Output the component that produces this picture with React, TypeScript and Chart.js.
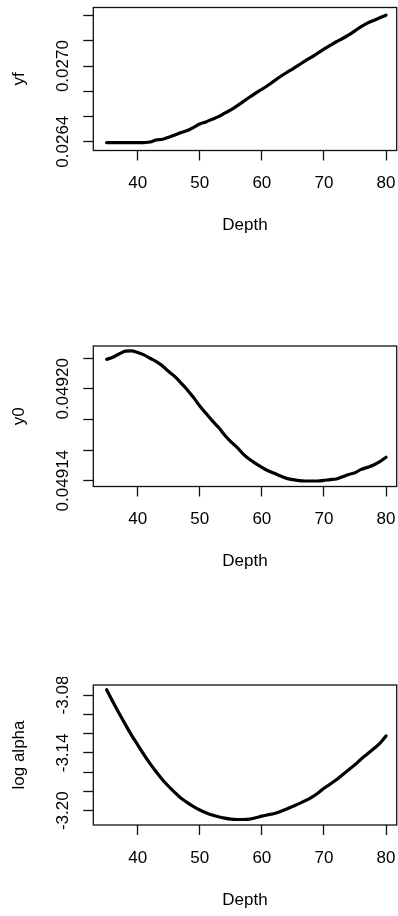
import React, { useEffect, useRef } from 'react';
import { Chart, registerables } from 'chart.js';

Chart.register(...registerables);

// ---------- data ----------
const depth = [
  35, 36, 37, 38, 39, 40, 41, 42, 43, 44, 45, 46, 47, 48, 49, 50,
  51, 52, 53, 54, 55, 56, 57, 58, 59, 60, 61, 62, 63, 64, 65,
  66, 67, 68, 69, 70, 71, 72, 73, 74, 75, 76, 77, 78, 79, 80,
];

const yfValues = [
  0.026392, 0.026392, 0.026392, 0.026392, 0.026392, 0.026392, 0.026393, 0.026397,
  0.026414, 0.026419, 0.026435, 0.026453, 0.026472, 0.026488, 0.026514, 0.026541,
  0.026557, 0.026578, 0.026599, 0.026626, 0.026652, 0.026684, 0.026718, 0.026753,
  0.026785, 0.026816, 0.026848, 0.026883, 0.026917, 0.026949, 0.026978,
  0.02701, 0.027042, 0.027071, 0.027103, 0.027134, 0.027164, 0.027193, 0.027219,
  0.027248, 0.02728, 0.027314, 0.027341, 0.027362, 0.027383, 0.027404,
];

const y0Values = [
  0.0492193, 0.0492207, 0.0492228, 0.0492246, 0.0492248, 0.0492237, 0.0492222, 0.04922,
  0.0492178, 0.049215, 0.0492113, 0.049208, 0.0492037, 0.0491993, 0.0491943, 0.0491888,
  0.049184, 0.0491792, 0.0491749, 0.0491699, 0.0491655, 0.0491618, 0.0491574, 0.049154,
  0.0491513, 0.0491487, 0.0491465, 0.0491448, 0.0491431, 0.0491415, 0.0491407,
  0.04914, 0.0491398, 0.0491398, 0.0491398, 0.0491402, 0.0491407, 0.0491411, 0.0491426,
  0.0491441, 0.0491452, 0.0491474, 0.0491487, 0.0491502, 0.0491524, 0.0491553,
];

const logAlphaValues = [
  -3.07442, -3.08698, -3.09884, -3.11035, -3.12151, -3.13163, -3.14174, -3.15116,
  -3.15988, -3.16791, -3.17488, -3.18116, -3.18709, -3.19163, -3.19581, -3.1993,
  -3.20209, -3.20453, -3.20628, -3.20767, -3.20872, -3.20907, -3.20907, -3.20872,
  -3.20733, -3.20558, -3.20419, -3.20279, -3.2007, -3.19826, -3.19547,
  -3.19267, -3.18953, -3.18605, -3.18186, -3.17663, -3.17244, -3.16791, -3.16267,
  -3.15744, -3.15221, -3.14628, -3.14105, -3.13581, -3.13023, -3.12256,
];

const xTicks = [40, 50, 60, 70, 80];

const yfTicks = [0.0264, 0.0266, 0.0268, 0.027, 0.0272, 0.0274];
const yfTickLabels = ['0.0264', '0.0270'];

const y0Ticks = [0.04914, 0.04916, 0.04918, 0.0492, 0.04922];
const y0TickLabels = ['0.04914', '0.04920'];

const logAlphaTicks = [-3.2, -3.18, -3.16, -3.14, -3.12, -3.1, -3.08];
const logAlphaTickLabels = ['-3.08', '-3.14', '-3.20'];

const xTitle = 'Depth';

// ---------- layout / style ----------
const FONT_FAMILY = '"Liberation Sans", Arial, Helvetica, sans-serif';
const FONT_SIZE = 17;
const W = 398;

const panels = [
  { title: 'yf', values: yfValues, ticks: yfTicks, labels: yfTickLabels,
    yMin: 0.02633, yMax: 0.027465, top: 0, height: 338, areaTop: 7.5, areaBottom: 150.5 },
  { title: 'y0', values: y0Values, ticks: y0Ticks, labels: y0TickLabels,
    yMin: 0.0491362, yMax: 0.049228, top: 338, height: 339, areaTop: 8, areaBottom: 148.5 },
  { title: 'log alpha', values: logAlphaValues, ticks: logAlphaTicks, labels: logAlphaTickLabels,
    yMin: -3.2148, yMax: -3.0696, top: 677, height: 239, areaTop: 8, areaBottom: 148 },
];

const AREA_LEFT = 93.3;
const AREA_RIGHT = 396.7;
const X_AXIS_H = 88;
const Y_LABEL_X = 63.3;

const rBoxPlugin = {
  id: 'rbox',
  afterDraw(chart: any, _args: any, opts: any) {
    const { ctx, chartArea: a } = chart;
    ctx.save();
    ctx.strokeStyle = '#111';
    ctx.lineWidth = 1.3;
    ctx.strokeRect(a.left, a.top, a.right - a.left, a.bottom - a.top);
    const ys = chart.scales.y;
    ctx.fillStyle = '#000';
    ctx.font = `${FONT_SIZE}px ${FONT_FAMILY}`;
    ctx.textAlign = 'center';
    ctx.textBaseline = 'middle';
    for (const lab of opts.labels as string[]) {
      const py = ys.getPixelForValue(parseFloat(lab));
      ctx.save();
      ctx.translate(opts.x, py);
      ctx.rotate(-Math.PI / 2);
      ctx.fillText(lab, 0, 0);
      ctx.restore();
    }
    ctx.restore();
  },
};

function Panel({ p }: { p: (typeof panels)[number] }) {
  const ref = useRef<HTMLCanvasElement>(null);
  useEffect(() => {
    const font = { family: FONT_FAMILY, size: FONT_SIZE };
    const chart = new Chart(ref.current as HTMLCanvasElement, {
      type: 'line',
      data: {
        datasets: [
          {
            data: depth.map((d, i) => ({ x: d, y: p.values[i] })),
            borderColor: '#000',
            borderWidth: 3.2,
            pointRadius: 0,
            fill: false,
            cubicInterpolationMode: 'monotone',
            borderCapStyle: 'round',
            borderJoinStyle: 'round',
          },
        ],
      },
      plugins: [rBoxPlugin],
      options: {
        animation: false,
        responsive: false,
        devicePixelRatio: 1,
        events: [],
        layout: {
          padding: {
            left: 0,
            right: W - AREA_RIGHT,
            top: p.areaTop,
            bottom: p.height - p.areaBottom - X_AXIS_H,
          },
        },
        plugins: {
          legend: { display: false },
          tooltip: { enabled: false },
          rbox: { labels: p.labels, x: Y_LABEL_X },
        } as any,
        scales: {
          x: {
            type: 'linear',
            min: 32.85,
            max: 81.72,
            afterBuildTicks: (s: any) => {
              s.ticks = xTicks.map((v) => ({ value: v }));
            },
            afterFit: (s: any) => {
              s.height = X_AXIS_H;
              s.paddingLeft = 0;
              s.paddingRight = 0;
            },
            grid: {
              display: true,
              drawOnChartArea: false,
              drawTicks: true,
              tickLength: 10,
              tickColor: '#111',
              tickWidth: 1.3,
            },
            border: { display: false },
            ticks: {
              font,
              color: '#000',
              padding: 12.8,
              autoSkip: false,
              maxRotation: 0,
              minRotation: 0,
              callback: (v: any) => String(v),
            },
            title: {
              display: true,
              text: xTitle,
              font,
              color: '#000',
              padding: { top: 0, bottom: 2.8 },
            },
          },
          y: {
            type: 'linear',
            min: p.yMin,
            max: p.yMax,
            afterBuildTicks: (s: any) => {
              s.ticks = p.ticks.map((v) => ({ value: v }));
            },
            afterFit: (s: any) => {
              s.width = AREA_LEFT;
              s.paddingTop = 0;
              s.paddingBottom = 0;
            },
            grid: {
              display: true,
              drawOnChartArea: false,
              drawTicks: true,
              tickLength: 10,
              tickColor: '#111',
              tickWidth: 1.3,
            },
            border: { display: false },
            ticks: { display: false },
            title: {
              display: true,
              text: p.title,
              font,
              color: '#000',
              padding: { top: 9, bottom: 0 },
            },
          },
        },
      } as any,
    });
    return () => chart.destroy();
  }, []);
  return (
    <canvas
      ref={ref}
      width={W}
      height={p.height}
      style={{ position: 'absolute', left: 0, top: p.top, width: W, height: p.height }}
    />
  );
}

export default function App() {
  return (
    <div style={{ position: 'absolute', left: 0, top: 0, width: W, height: 916, background: '#fff' }}>
      {panels.map((p) => (
        <Panel key={p.title} p={p} />
      ))}
    </div>
  );
}
